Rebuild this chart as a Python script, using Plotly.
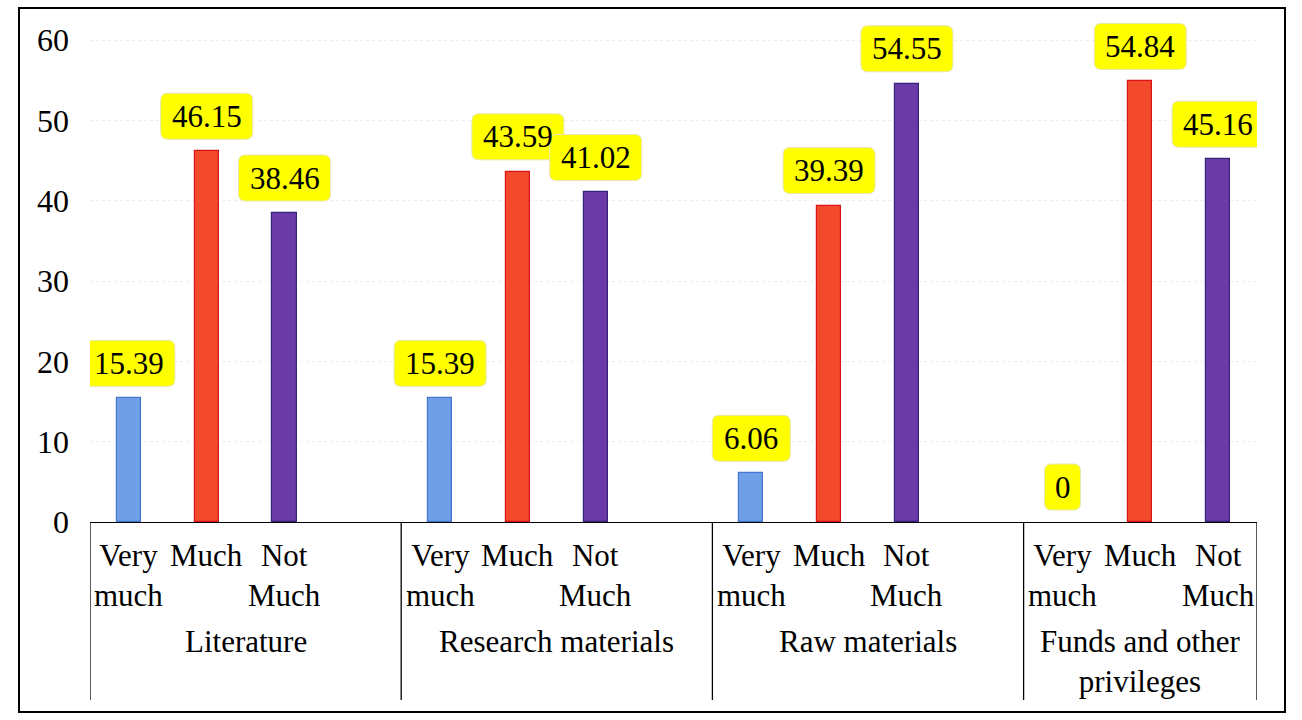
import plotly.graph_objects as go

# Survey results (%) by resource type
groups = ["Literature", "Research materials", "Raw materials", "Funds and other<br>privileges"]
group_slots = [4, 4, 4, 3]  # category slots per group on the axis
levels = ["Very<br>much", "Much", "Not<br>Much"]
very_much = [15.39, 15.39, 6.06, 0]
much = [46.15, 43.59, 39.39, 54.84]
not_much = [38.46, 41.02, 54.55, 45.16]
y_ticks = [0, 10, 20, 30, 40, 50, 60]

series = [
    (very_much, "#6f9fe6", "#4677d0"),
    (much, "#f24a2a", "#d8141a"),
    (not_much, "#6a3aa6", "#37237a"),
]

FONT = "Liberation Serif, Times New Roman, serif"
FS = 31

# group start positions on the numeric category axis
starts = []
acc = 0
for n in group_slots:
    starts.append(acc)
    acc += n
x_end = acc

fig = go.Figure()
for si, (vals, fill, edge) in enumerate(series):
    xs = [starts[g] + si + 0.5 for g in range(len(groups))]
    fig.add_trace(go.Bar(
        x=xs, y=vals, width=0.31,
        marker=dict(color=fill,
                    line=dict(color=edge, width=[1.2 if v > 0 else 0 for v in vals])),
        showlegend=False, hoverinfo="x+y",
    ))


def rounded_box(w, h, r, y0):
    x0, x1 = -w / 2, w / 2
    y1 = y0 + h
    return (f"M {x0 + r},{y0} L {x1 - r},{y0} Q {x1},{y0} {x1},{y0 + r} "
            f"L {x1},{y1 - r} Q {x1},{y1} {x1 - r},{y1} L {x0 + r},{y1} "
            f"Q {x0},{y1} {x0},{y1 - r} L {x0},{y0 + r} Q {x0},{y0} {x0 + r},{y0} Z")


def fmt(v):
    return "0" if v == 0 else f"{v:.2f}"


shapes = []
annotations = []
GAP, BOX_H = 12, 46
for si, (vals, fill, edge) in enumerate(series):
    for g, v in enumerate(vals):
        x = starts[g] + si + 0.5
        txt = fmt(v)
        w = 14 * len(txt) + 22
        shapes.append(dict(
            type="path", xref="x", yref="y", xsizemode="pixel", ysizemode="pixel",
            xanchor=x, yanchor=v, path=rounded_box(w, BOX_H, 7, GAP),
            fillcolor="#ffff00", line=dict(color="#e6e6b0", width=1), layer="above",
        ))
        annotations.append(dict(
            x=x, y=v, xref="x", yref="y", text=txt, showarrow=False,
            yanchor="middle", yshift=GAP + BOX_H / 2,
            font=dict(family=FONT, size=FS, color="black"),
        ))

# plot area geometry in pixels; the top is extended so labels are not clipped
W, H = 1302, 720
ML, MR, MT, MB = 90, 45, 8, 198
pw, ph = W - ML - MR, H - MT - MB
y_top = 60 * ph / (H - MB - 40)  # keeps the 60 tick at 40 px from the top


def py(pix):
    return (H - MB - pix) / ph


def px(pix):
    return (pix - ML) / pw


# vertical dividers of the category table
table_bottom = py(700)
for b in starts + [x_end]:
    shapes.append(dict(type="line", xref="x", yref="paper", x0=b, x1=b,
                       y0=0, y1=table_bottom, line=dict(color="black", width=1.3)))

# sub-category labels
for g in range(len(groups)):
    for si, lab in enumerate(levels):
        annotations.append(dict(
            x=starts[g] + si + 0.5, y=py(536), xref="x", yref="paper", text=lab,
            showarrow=False, yanchor="top", align="center",
            font=dict(family=FONT, size=FS, color="black"),
        ))
    # group label centred in its slot range
    annotations.append(dict(
        x=starts[g] + group_slots[g] / 2, y=py(622), xref="x", yref="paper",
        text=groups[g], showarrow=False, yanchor="top", align="center",
        font=dict(family=FONT, size=FS, color="black"),
    ))

# outer chart frame
shapes.append(dict(type="rect", xref="paper", yref="paper",
                   x0=px(19), x1=px(1285), y0=py(712), y1=py(8),
                   line=dict(color="black", width=2), fillcolor="rgba(0,0,0,0)"))

fig.update_layout(
    width=W, height=H,
    margin=dict(l=ML, r=MR, t=MT, b=MB),
    paper_bgcolor="white", plot_bgcolor="white",
    bargap=0,
    shapes=shapes, annotations=annotations,
    xaxis=dict(range=[0, x_end], showticklabels=False, showgrid=False,
               zeroline=False, showline=True, linecolor="black", linewidth=1.3,
               ticks=""),
    yaxis=dict(range=[0, y_top], tickvals=y_ticks, showgrid=True,
               gridcolor="#eeeeee", griddash="dot", zeroline=False,
               showline=False, ticks="", ticklabelstandoff=20,
               tickfont=dict(family=FONT, size=FS + 1, color="black")),
)

fig.write_html("out.html")
